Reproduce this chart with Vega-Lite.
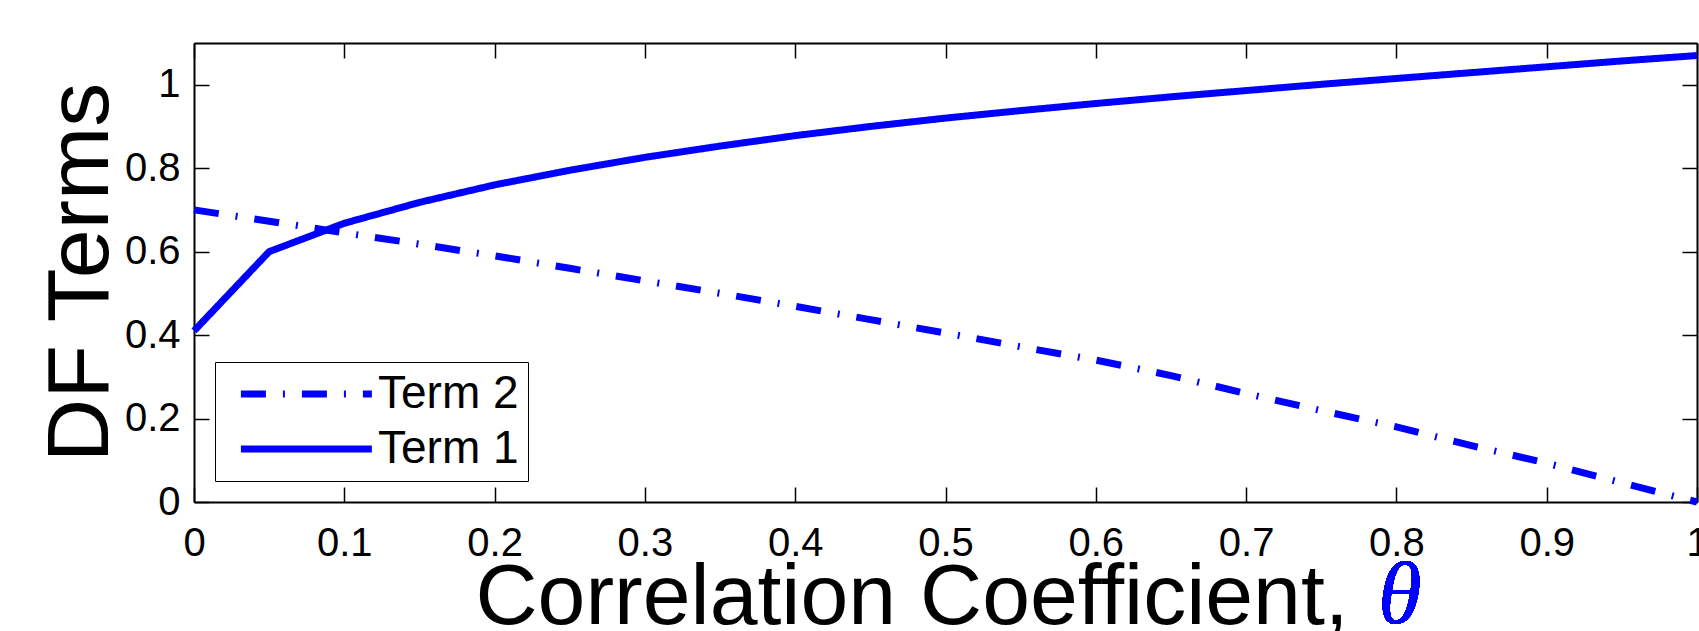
{
  "$schema": "https://vega.github.io/schema/vega-lite/v6.json",
  "autosize": "none",
  "width": 1503,
  "height": 459,
  "padding": {"left": 194, "top": 43, "right": 2, "bottom": 129},
  "background": "white",
  "data": {"values": [
    {"theta": 0.00, "value": 0.700, "series": "Term 2"},
    {"theta": 0.05, "value": 0.673, "series": "Term 2"},
    {"theta": 0.10, "value": 0.645, "series": "Term 2"},
    {"theta": 0.15, "value": 0.618, "series": "Term 2"},
    {"theta": 0.20, "value": 0.590, "series": "Term 2"},
    {"theta": 0.25, "value": 0.560, "series": "Term 2"},
    {"theta": 0.30, "value": 0.530, "series": "Term 2"},
    {"theta": 0.35, "value": 0.500, "series": "Term 2"},
    {"theta": 0.40, "value": 0.469, "series": "Term 2"},
    {"theta": 0.45, "value": 0.437, "series": "Term 2"},
    {"theta": 0.50, "value": 0.405, "series": "Term 2"},
    {"theta": 0.55, "value": 0.372, "series": "Term 2"},
    {"theta": 0.60, "value": 0.340, "series": "Term 2"},
    {"theta": 0.65, "value": 0.303, "series": "Term 2"},
    {"theta": 0.70, "value": 0.260, "series": "Term 2"},
    {"theta": 0.75, "value": 0.219, "series": "Term 2"},
    {"theta": 0.80, "value": 0.180, "series": "Term 2"},
    {"theta": 0.85, "value": 0.135, "series": "Term 2"},
    {"theta": 0.90, "value": 0.093, "series": "Term 2"},
    {"theta": 0.95, "value": 0.046, "series": "Term 2"},
    {"theta": 1.00, "value": 0.000, "series": "Term 2"},
    {"theta": 0.00, "value": 0.410, "series": "Term 1"},
    {"theta": 0.05, "value": 0.600, "series": "Term 1"},
    {"theta": 0.10, "value": 0.668, "series": "Term 1"},
    {"theta": 0.15, "value": 0.718, "series": "Term 1"},
    {"theta": 0.20, "value": 0.760, "series": "Term 1"},
    {"theta": 0.25, "value": 0.795, "series": "Term 1"},
    {"theta": 0.30, "value": 0.826, "series": "Term 1"},
    {"theta": 0.35, "value": 0.853, "series": "Term 1"},
    {"theta": 0.40, "value": 0.878, "series": "Term 1"},
    {"theta": 0.45, "value": 0.900, "series": "Term 1"},
    {"theta": 0.50, "value": 0.920, "series": "Term 1"},
    {"theta": 0.55, "value": 0.938, "series": "Term 1"},
    {"theta": 0.60, "value": 0.955, "series": "Term 1"},
    {"theta": 0.65, "value": 0.971, "series": "Term 1"},
    {"theta": 0.70, "value": 0.986, "series": "Term 1"},
    {"theta": 0.75, "value": 1.001, "series": "Term 1"},
    {"theta": 0.80, "value": 1.015, "series": "Term 1"},
    {"theta": 0.85, "value": 1.029, "series": "Term 1"},
    {"theta": 0.90, "value": 1.043, "series": "Term 1"},
    {"theta": 0.95, "value": 1.057, "series": "Term 1"},
    {"theta": 1.00, "value": 1.070, "series": "Term 1"}
  ]},
  "layer": [
    {
      "mark": {"type": "line", "color": "#0000ff", "strokeWidth": 7},
      "encoding": {
        "x": {"field": "theta", "type": "quantitative",
              "scale": {"domain": [0, 1], "nice": false, "zero": false},
              "axis": {"orient": "bottom", "values": [0, 0.1, 0.2, 0.3, 0.4, 0.5, 0.6, 0.7, 0.8, 0.9, 1],
                       "format": "~g", "labelPadding": 36,
                       "title": "Correlation Coefficient,", "titleAlign": "left", "titleAnchor": "start",
                       "titleX": 281, "titleY": 121, "titleBaseline": "alphabetic", "titleFontSize": 86}},
        "y": {"field": "value", "type": "quantitative",
              "scale": {"domain": [0, 1.1], "nice": false, "zero": true},
              "axis": {"orient": "left", "values": [0, 0.2, 0.4, 0.6, 0.8, 1],
                       "format": "~g", "labelPadding": 29,
                       "title": "DF Terms", "titleAngle": -90, "titleAlign": "center",
                       "titleX": -87, "titleY": 229, "titleBaseline": "alphabetic", "titleFontSize": 88}},
        "strokeDash": {"field": "series", "type": "nominal",
                       "scale": {"domain": ["Term 2", "Term 1"], "range": [[25, 17, 2, 17], [1, 0]]},
                       "legend": {"title": null}}
      }
    },
    {
      "mark": {"type": "line", "opacity": 0},
      "encoding": {
        "x": {"field": "theta", "type": "quantitative",
              "axis": {"orient": "top", "values": [0, 0.1, 0.2, 0.3, 0.4, 0.5, 0.6, 0.7, 0.8, 0.9, 1],
                       "labels": false, "title": null}},
        "y": {"field": "value", "type": "quantitative",
              "axis": {"orient": "right", "values": [0, 0.2, 0.4, 0.6, 0.8, 1],
                       "labels": false, "title": null}},
        "detail": {"field": "series"}
      }
    },
    {
      "mark": {"type": "text", "text": "θ", "font": "Liberation Serif", "fontStyle": "italic",
               "fontSize": 88, "color": "#0000ff", "align": "left", "baseline": "alphabetic"},
      "encoding": {
        "x": {"datum": 0.788, "type": "quantitative", "axis": null},
        "y": {"datum": -0.29, "type": "quantitative", "axis": null}
      }
    }
  ],
  "resolve": {"axis": {"x": "independent", "y": "independent"}},
  "config": {
    "font": "Liberation Sans",
    "view": {"stroke": null},
    "axis": {
      "labelFont": "Liberation Sans", "labelFontSize": 40, "labelColor": "black",
      "labelFlush": false, "labelOverlap": false, "labelBound": false,
      "domainColor": "black", "domainWidth": 2,
      "tickColor": "black", "tickWidth": 1.5, "tickSize": -15,
      "grid": false,
      "titleFont": "Liberation Sans", "titleFontSize": 84, "titleFontWeight": "normal", "titleColor": "black"
    },
    "legend": {
      "orient": "none", "legendX": 21, "legendY": 319,
      "symbolType": "M-1,0H9", "symbolSize": 686, "symbolStrokeWidth": 7,
      "symbolStrokeColor": "#0000ff",
      "labelFont": "Liberation Sans", "labelFontSize": 46, "labelColor": "black",
      "labelOffset": 101, "symbolOffset": 7, "rowPadding": 9,
      "strokeColor": "black", "fillColor": "white", "padding": 9
    }
  }
}
